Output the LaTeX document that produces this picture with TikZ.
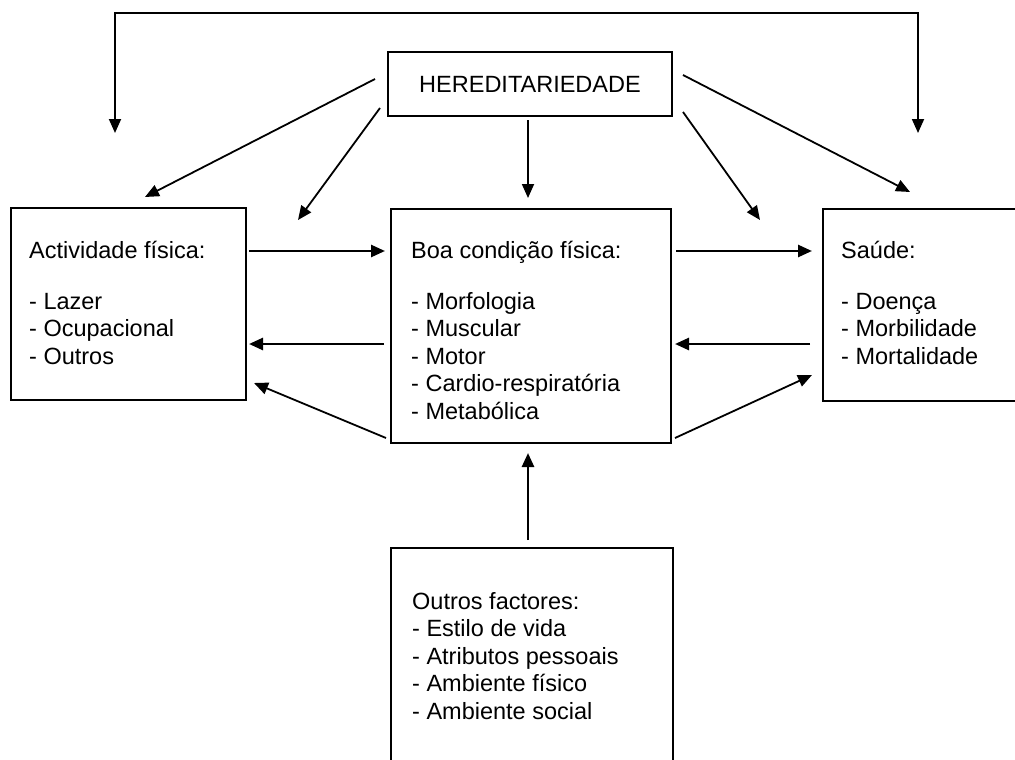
\documentclass[tikz,border=0pt]{standalone}
\usepackage{fontspec}
\setmainfont{Liberation Sans}
\usetikzlibrary{arrows.meta}
\begin{document}
\begin{tikzpicture}[x=1pt,y=-1pt,
  box/.style={draw=black, line width=1.8pt, inner sep=0pt, anchor=north west},
  txt/.style={anchor=base west, inner sep=0pt, font=\fontsize{23.5}{27.5}\selectfont},
  tip/.style={Triangle[length=14pt,width=12pt]},
  arr/.style={-{Triangle[length=14pt,width=12pt]}, line width=1.8pt},
  harr/.style={-{Triangle[length=14pt,width=12pt]}, line width=2.6pt}]
\useasboundingbox (0,0) rectangle (1015,760);
\clip (0,0) rectangle (1015,760);

% boxes
\node[box, minimum width=284pt, minimum height=64pt, anchor=center,
      font=\fontsize{23.5}{27.5}\selectfont] (hered) at (530,84) {HEREDITARIEDADE};
\node[box, minimum width=235pt, minimum height=192pt] (act) at (10,207) {};
\node[box, minimum width=280pt, minimum height=234pt] (boa) at (390,208) {};
\node[box, minimum width=260pt, minimum height=192pt] (sau) at (822,208) {};
\node[box, minimum width=282pt, minimum height=260pt] (out) at (390,547) {};

% texts
\node[txt] (a0) at (29,258) {Actividade física:};
\node[txt] (a1) at (29,309) {- Lazer};
\node[txt] (a2) at (29,336.5) {- Ocupacional};
\node[txt] (a3) at (29,364) {- Outros};

\node[txt] (b0) at (411,258) {Boa condição física:};
\node[txt] (b1) at (411,309) {- Morfologia};
\node[txt] (b2) at (411,336.5) {- Muscular};
\node[txt] (b3) at (411,364) {- Motor};
\node[txt] (b4) at (411,391.5) {- Cardio-respiratória};
\node[txt] (b5) at (411,419) {- Metabólica};

\node[txt] (s0) at (841,258) {Saúde:};
\node[txt] (s1) at (841,309) {- Doença};
\node[txt] (s2) at (841,336.5) {- Morbilidade};
\node[txt] (s3) at (841,364) {- Mortalidade};

\node[txt] (o0) at (412,609) {Outros factores:};
\node[txt] (o1) at (412,636.5) {- Estilo de vida};
\node[txt] (o2) at (412,664) {- Atributos pessoais};
\node[txt] (o3) at (412,691.5) {- Ambiente físico};
\node[txt] (o4) at (412,719) {- Ambiente social};

% connector end points
\coordinate (tl) at (115,13);
\coordinate (tr) at (918,13);
\coordinate (tle) at (115,133);
\coordinate (tre) at (918,133);

\coordinate (h1s) at (375,79);  \coordinate (h1e) at (145,197);
\coordinate (h2s) at (380,108); \coordinate (h2e) at (298,220);
\coordinate (h3s) at (528,120); \coordinate (h3e) at (528,198);
\coordinate (h4s) at (683,112); \coordinate (h4e) at (760,220);
\coordinate (h5s) at (683,75);  \coordinate (h5e) at (910,192);

\coordinate (ab1) at (249,251); \coordinate (ab2) at (385,251);
\coordinate (bs1) at (676,251); \coordinate (bs2) at (812,251);
\coordinate (ba1) at (384,344); \coordinate (ba2) at (249,344);
\coordinate (sb1) at (810,344); \coordinate (sb2) at (675,344);
\coordinate (bl1) at (386,438); \coordinate (bl2) at (254,383);
\coordinate (br1) at (675,438); \coordinate (br2) at (812,375);
\coordinate (ob1) at (528,540); \coordinate (ob2) at (528,453);

% connectors
\draw[{Triangle[length=14pt,width=12pt]}-{Triangle[length=14pt,width=12pt]}, line width=1.8pt, line join=miter]
  (tle) -- (tl) -- (tr) -- (tre);

\draw[arr] (h1s) -- (h1e);
\draw[arr] (h2s) -- (h2e);
\draw[arr] (h3s) -- (h3e);
\draw[arr] (h4s) -- (h4e);
\draw[arr] (h5s) -- (h5e);

\draw[harr] (ab1) -- (ab2);
\draw[harr] (bs1) -- (bs2);
\draw[harr] (ba1) -- (ba2);
\draw[harr] (sb1) -- (sb2);
\draw[arr] (bl1) -- (bl2);
\draw[arr] (br1) -- (br2);
\draw[harr] (ob1) -- (ob2);
\end{tikzpicture}
\end{document}
